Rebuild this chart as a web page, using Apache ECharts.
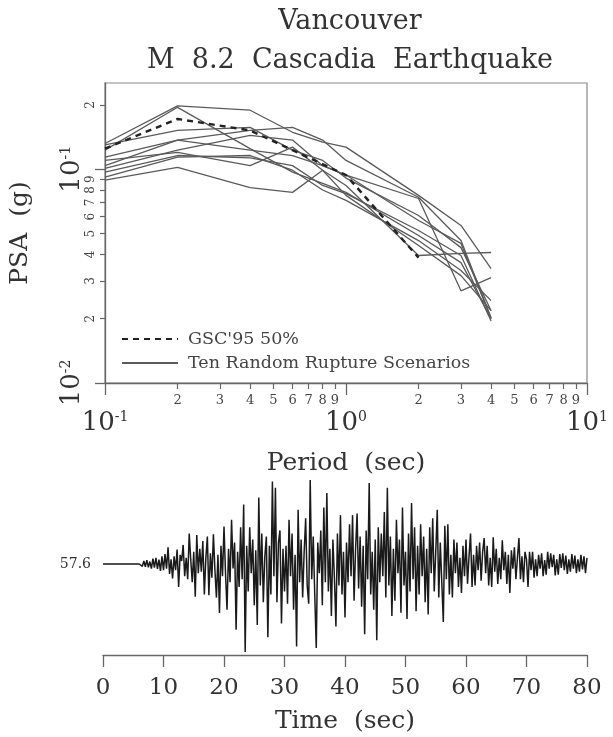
<!DOCTYPE html>
<html>
<head>
<meta charset="utf-8">
<script src="https://cdn.jsdelivr.net/npm/echarts@6/dist/echarts.min.js"></script>
<style>html,body{margin:0;padding:0;background:#fff}#c{width:613px;height:737px}</style>
</head>
<body>
<div id="c"></div>
<script>
// ---------- Data: response spectra ----------
const periods = [0.1, 0.2, 0.4, 0.6, 0.8, 1.0, 2.0, 3.0, 4.0];
const gscPeriods = [0.1, 0.2, 0.4, 1.0, 2.0];
const gscPSA = [0.125, 0.172, 0.152, 0.094, 0.0386];
const scenario1  = [0.132, 0.198, 0.189, 0.149, 0.134, 0.127, 0.0755, 0.0546, 0.0343];
const scenario2  = [0.123, 0.195, 0.125, 0.097, 0.086, 0.078, 0.049, 0.0366, 0.020];
const scenario3  = [0.114, 0.137, 0.152, 0.157, 0.137, 0.110, 0.074, 0.0464, 0.0202];
const scenario4  = [0.130, 0.152, 0.157, 0.123, 0.110, 0.091, 0.0608, 0.043, 0.0218];
const scenario5  = [0.104, 0.137, 0.123, 0.116, 0.104, 0.094, 0.0576, 0.045, 0.020];
const scenario6  = [0.110, 0.120, 0.104, 0.127, 0.099, 0.084, 0.0395, 0.0404, 0.0408];
const scenario7  = [0.101, 0.123, 0.144, 0.137, 0.104, 0.094, 0.073, 0.027, 0.0311];
const scenario8  = [0.097, 0.116, 0.113, 0.104, 0.084, 0.077, 0.0517, 0.0395, 0.0195];
const scenario9  = [0.092, 0.114, 0.116, 0.099, 0.080, 0.0715, 0.0464, 0.0336, 0.0243];
const scenario10 = [0.089, 0.102, 0.082, 0.078, 0.099, 0.0755, 0.044, 0.0318, 0.0218];
const scenarios = [scenario1, scenario2, scenario3, scenario4, scenario5, scenario6, scenario7, scenario8, scenario9, scenario10];

// ---------- Axis ticks ----------
const xMajorTicks = [0.1, 1, 10];
const xMinorTicks = [0.2, 0.3, 0.4, 0.5, 0.6, 0.7, 0.8, 0.9, 2, 3, 4, 5, 6, 7, 8, 9];
const yMajorTicks = [0.01, 0.1];
const yMinorTicks = [0.02, 0.03, 0.04, 0.05, 0.06, 0.07, 0.08, 0.09, 0.2];
const timeTicks = [0, 10, 20, 30, 40, 50, 60, 70, 80];
const seisLabel = '57.6';

const seisStep = 0.25;
const seisValues = [
  0,0,0,0, 0,0,0,0, 0,0,0,0, 0,0,0,0, 0,0,0,0, 0,0,0,0,
  0,1.2,-1.5,2.0, -1.8,2.5,-2.2,1.6, -3.0,3.5,-2.4,4.0, -3.2,2.8,-4.5,5.0,
  -4.0,6.5,-3.0,11.0, -6.5,3.0,-9.5,5.0, -4.0,9.5,-15.0,6.0, 2.0,12.5,-8.0,4.0,
  -10.0,20.0,3.0,-12.0, 8.0,-21.5,19.0,-6.0, 10.0,-5.0,15.0,-20.0, 4.0,18.0,-20.5,7.0,
  -9.0,19.5,-4.0,-22.0, 6.0,-32.0,12.0,-8.0, 24.5,-6.0,-30.0,10.0, -12.0,29.0,-3.0,14.0,
  -43.0,8.0,-15.0,24.0, -10.0,39.0,-57.6,12.0, -18.0,24.0,-6.0,16.0, -27.0,9.0,-40.0,43.5,
  -14.0,20.0,-25.0,5.0, 18.0,-48.0,12.0,-20.0, 54.0,-8.0,50.0,-25.0, 14.0,22.0,-39.0,10.0,
  -18.0,12.0,-26.0,29.0, -8.0,20.0,-30.0,6.0, -54.0,35.5,-12.0,16.0, -22.0,8.0,30.0,-14.0,
  -26.0,55.0,-10.0,18.0, -20.0,-55.0,14.0,-6.0, 22.0,-27.0,37.0,-12.0, 46.5,-18.0,10.0,-34.0,
  16.0,-9.0,-41.0,20.0, -14.0,32.0,-20.0,8.0, -35.0,14.0,-12.0,26.0, -8.0,32.0,-24.0,10.0,
  33.0,-16.0,18.0,-28.0, 12.0,-46.0,22.0,-10.0, 53.0,-20.0,8.0,-30.0, 16.0,-50.0,24.0,-12.0,
  20.0,-8.0,34.0,-22.0, 50.0,-14.0,18.0,-34.0, 10.0,-24.0,29.0,-6.0, 16.0,-32.0,37.0,-14.0,
  8.0,-36.0,20.0,-18.0, 40.0,-10.0,24.0,-31.0, 12.0,-20.0,26.0,-8.0, 18.0,-25.0,10.0,-33.0,
  24.0,-6.0,30.0,-18.0, 8.0,35.5,-22.0,14.0, -12.0,-38.0,25.0,-10.0, 26.0,-20.0,6.0,-22.0,
  16.0,-6.0,14.0,-15.0, 4.0,-19.0,12.0,-8.0, 16.0,-13.0,5.0,20.0, -15.0,6.0,-14.0,12.0,
  -4.0,14.0,-11.0,8.0, 17.0,-6.0,12.0,-14.0, 4.0,-15.0,17.5,-5.0, 10.0,-13.0,4.0,-10.0,
  15.5,-4.0,8.0,-13.0, 6.0,-19.0,9.0,-3.0, 11.0,-10.0,4.0,17.0, -10.0,5.0,-12.0,8.0,
  3.0,-15.0,8.0,-4.0, 8.0,-9.0,3.0,-8.0, 6.0,-3.0,7.0,-8.0, 2.5,-7.0,8.0,-3.0,
  7.0,-2.0,6.0,-7.5, 3.0,-7.0,6.5,-2.5, 7.0,-4.0,5.5,-6.5, 3.0,-5.0,6.5,-3.0,
  5.5,-6.0,3.0,-5.0, 6.0,-3.5,5.0,-6.0,
  4.0
];

const FONT = 'DejaVu Serif';
const supFmt = v => {
  const e = Math.round(Math.log10(v));
  return '{b|10}{s|' + e + '}';
};
const minorFmt = v => String(Math.round(v / Math.pow(10, Math.floor(Math.log10(v) + 1e-9))));
const richMajor = {
  b: { fontFamily: FONT, fontSize: 26, color: '#333' },
  s: { fontFamily: FONT, fontSize: 14, color: '#333', verticalAlign: 'top' }
};

const chart = echarts.init(document.getElementById('c'), null, { renderer: 'canvas' });

const series = [];
scenarios.forEach(arr => {
  series.push({
    type: 'line', name: 'Ten Random Rupture Scenarios', xAxisIndex: 0, yAxisIndex: 0,
    data: periods.map((p, i) => [p, arr[i]]), symbol: 'none', silent: true,
    lineStyle: { color: '#5a5a5a', width: 1.3 }, itemStyle: { color: '#5a5a5a' }
  });
});
series.push({
  type: 'line', name: "GSC'95 50%", xAxisIndex: 0, yAxisIndex: 0,
  data: gscPeriods.map((p, i) => [p, gscPSA[i]]), symbol: 'none', silent: true, z: 5,
  lineStyle: { color: '#222', width: 2.4, type: [6, 5] }, itemStyle: { color: '#222' }
});
series.push({
  type: 'line', name: 'accel', xAxisIndex: 2, yAxisIndex: 2,
  data: seisValues.map((v, i) => [i * seisStep, v]), symbol: 'none', silent: true,
  lineStyle: { color: '#1a1a1a', width: 1.5 }
});

const option = {
  backgroundColor: '#fff',
  animation: false,
  title: [
    { text: 'Vancouver', left: 345, top: 3, textAlign: 'center',
      textStyle: { fontFamily: FONT, fontSize: 27, fontWeight: 'normal', color: '#333' } },
    { text: 'M  8.2  Cascadia  Earthquake', left: 345, top: 42, textAlign: 'center',
      textStyle: { fontFamily: FONT, fontSize: 27, fontWeight: 'normal', color: '#333' } }
  ],
  legend: {
    data: ["GSC'95 50%", 'Ten Random Rupture Scenarios'],
    orient: 'vertical', left: 116, top: 325, itemWidth: 56, itemHeight: 12, itemGap: 6,
    itemStyle: { color: 'rgba(0,0,0,0)', borderWidth: 0, opacity: 0 },
    textStyle: { fontFamily: FONT, fontSize: 17.5, color: '#444', padding: [0, 0, 0, 5] },
    selectedMode: false
  },
  grid: [
    { left: 103, top: 83, width: 484, height: 300, show: true, borderColor: '#888', borderWidth: 1.2 },
    { left: 103, top: 473, width: 484, height: 182, show: false }
  ],
  xAxis: [
    { type: 'log', logBase: 10, gridIndex: 0, min: 0.1, max: 10, position: 'bottom',
      name: 'Period  (sec)', nameLocation: 'middle', nameGap: 68,
      nameTextStyle: { fontFamily: FONT, fontSize: 25, color: '#333' },
      axisLine: { show: true, lineStyle: { color: '#666', width: 1.3 } },
      axisTick: { show: true, length: 12, customValues: xMajorTicks, lineStyle: { color: '#666', width: 1.3 } },
      axisLabel: { customValues: xMajorTicks, formatter: supFmt, rich: richMajor, margin: 27 },
      splitLine: { show: false }, minorTick: { show: false } },
    { type: 'log', logBase: 10, gridIndex: 0, min: 0.1, max: 10, position: 'bottom',
      axisLine: { show: false },
      axisTick: { show: true, length: 6, customValues: xMinorTicks, lineStyle: { color: '#666', width: 1.2 } },
      axisLabel: { customValues: xMinorTicks, formatter: minorFmt, margin: 11,
        fontFamily: FONT, fontSize: 13, color: '#444' },
      splitLine: { show: false } },
    { type: 'value', gridIndex: 1, min: 0, max: 80, interval: 10, position: 'bottom',
      name: 'Time  (sec)', nameLocation: 'middle', nameGap: 54,
      nameTextStyle: { fontFamily: FONT, fontSize: 25, color: '#333' },
      axisLine: { show: true, onZero: false, lineStyle: { color: '#666', width: 1.3 } },
      axisTick: { show: true, length: 12, customValues: timeTicks, lineStyle: { color: '#666', width: 1.3 } },
      axisLabel: { customValues: timeTicks, margin: 22, fontFamily: FONT, fontSize: 23, color: '#333' },
      splitLine: { show: false } }
  ],
  yAxis: [
    { type: 'log', logBase: 10, gridIndex: 0, min: 0.01, max: 0.2534, position: 'left',
      name: 'PSA  (g)', nameLocation: 'middle', nameGap: 72, nameRotate: 90,
      nameTextStyle: { fontFamily: FONT, fontSize: 25, color: '#333' },
      axisLine: { show: true, lineStyle: { color: '#666', width: 1.3 } },
      axisTick: { show: true, length: 10, customValues: yMajorTicks, lineStyle: { color: '#666', width: 1.3 } },
      axisLabel: { customValues: yMajorTicks, formatter: supFmt, rich: richMajor, rotate: 90, margin: 20 },
      splitLine: { show: false } },
    { type: 'log', logBase: 10, gridIndex: 0, min: 0.01, max: 0.2534, position: 'left',
      axisLine: { show: false },
      axisTick: { show: true, length: 5, customValues: yMinorTicks, lineStyle: { color: '#666', width: 1.2 } },
      axisLabel: { customValues: yMinorTicks, formatter: minorFmt, rotate: 90, margin: 8,
        fontFamily: FONT, fontSize: 12, color: '#444' },
      splitLine: { show: false } },
    { type: 'value', gridIndex: 1, min: -59.6, max: 59.6, position: 'left',
      axisLine: { show: false }, axisTick: { show: false }, splitLine: { show: false },
      axisLabel: { customValues: [0], formatter: () => seisLabel, margin: 12,
        fontFamily: FONT, fontSize: 14, color: '#333' } }
  ],
  series: series
};
chart.setOption(option);
</script>
</body>
</html>
